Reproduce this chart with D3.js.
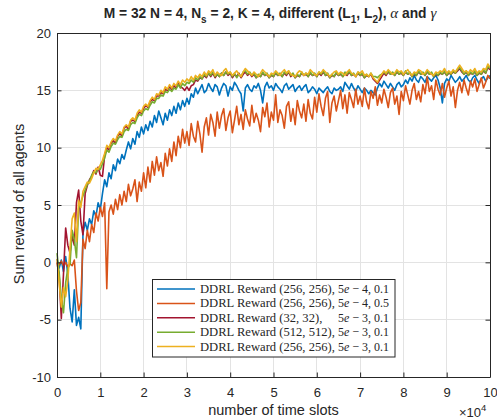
<!DOCTYPE html>
<meta charset="utf-8">
<script src="https://d3js.org/d3.v7.min.js"></script>
<style>
  body { margin: 0; background: #fff; }
  text { font-family: "Liberation Sans", Arial, Helvetica, sans-serif; fill: #262626; }
</style>
<div id="my_dataviz"></div>
<script>

// samples are taken every 500 time slots, from 0 to 100000
var slotStep = 500;

// DDRL Reward (256,256), 5e-4, 0.1
var rewardA = [
  0.3,-0.5,0.2,-0.8,0.5,-1.0,-4.0,-5.2,-2.4,-5.5,
  -4.8,-5.8,2.5,3.5,2.8,3.8,3.3,4.5,4.0,5.2,
  4.6,6.0,7.2,6.6,7.8,7.3,8.5,8.0,9.0,8.6,
  9.4,9.0,9.8,10.5,9.9,10.8,10.3,11.4,10.9,11.8,
  11.2,12.0,11.5,12.3,11.8,12.8,12.2,13.2,12.6,12.0,
  13.0,12.4,13.3,12.8,13.6,13.0,13.9,13.3,14.1,13.6,
  14.3,13.8,14.7,14.4,15.2,14.7,15.1,15.5,14.8,15.0,
  15.6,15.2,14.9,15.5,15.3,14.6,15.2,15.6,15.4,14.5,
  15.3,15.0,15.7,15.4,15.0,14.7,13.2,15.2,15.5,15.1,
  14.9,15.4,15.2,15.6,15.0,13.9,15.3,15.7,15.2,15.4,
  15.0,15.6,15.3,15.1,14.8,15.4,15.6,15.1,15.3,15.5,
  14.9,15.2,15.4,15.0,15.3,15.5,14.8,15.0,15.3,15.1,
  14.7,15.2,15.0,14.8,15.1,15.3,14.9,14.7,15.2,15.0,
  15.1,15.3,14.9,15.7,15.4,15.1,15.6,15.2,14.9,15.4,
  15.1,14.8,15.2,15.0,14.7,15.0,14.8,14.6,15.2,15.6,
  15.3,15.8,15.5,15.2,15.6,15.3,15.0,15.5,15.7,15.3,
  15.5,15.9,15.6,16.1,15.8,16.3,15.9,15.7,16.2,16.0,
  15.7,16.2,16.0,15.8,16.1,16.3,15.9,15.2,13.9,15.6,
  16.0,15.8,16.3,16.0,15.7,15.9,16.2,15.8,16.0,16.3,
  15.9,15.7,16.1,16.3,15.9,15.6,16.0,16.2,15.8,16.1,
  16.3
];

// DDRL Reward (256,256), 5e-4, 0.5
var rewardB = [
  0.0,-0.2,0.1,-0.3,0.0,-0.4,-0.1,-0.3,0.2,-2.5,
  -4.2,-3.5,2.0,1.2,2.8,1.8,3.3,2.6,4.3,3.6,
  4.8,4.0,5.2,-2.3,4.4,5.0,4.2,5.5,4.6,5.9,
  5.0,6.2,5.3,6.8,5.8,6.4,7.2,5.3,7.0,6.2,
  7.8,6.5,8.3,7.0,8.8,7.6,9.2,8.0,8.7,7.5,
  9.5,8.4,9.9,8.8,10.5,9.3,11.0,10.0,11.6,10.4,
  11.4,10.2,12.1,11.0,10.5,12.3,11.2,9.6,11.8,12.6,
  11.1,12.9,12.2,11.0,13.1,11.7,12.8,13.4,11.5,12.6,
  13.2,11.3,12.4,13.6,12.0,12.9,11.6,13.3,12.5,11.9,
  13.7,12.2,13.0,12.4,11.4,13.5,12.7,13.9,11.8,13.1,
  12.4,14.6,12.2,13.3,12.8,11.7,13.6,14.0,12.3,13.4,
  12.0,14.1,13.2,12.6,13.8,12.3,14.2,13.0,12.5,14.4,
  13.1,14.7,13.6,12.8,14.3,14.9,12.2,13.9,14.5,13.2,
  14.1,15.0,13.4,14.6,13.0,14.8,14.2,13.5,15.1,13.8,
  14.5,13.6,15.2,14.0,13.4,14.9,14.3,15.3,13.7,14.6,
  13.9,15.1,14.4,13.5,14.8,15.2,13.8,14.5,12.9,14.9,
  14.1,15.4,14.6,13.8,15.0,15.6,14.2,14.9,14.0,15.5,
  14.7,16.2,14.9,15.4,14.2,15.9,15.1,14.6,15.6,14.4,
  15.2,15.8,14.5,15.3,13.5,15.0,15.7,14.8,15.9,15.2,
  14.6,15.8,15.3,16.0,14.9,15.5,16.1,15.2,15.7,16.3,
  16.0
];

// DDRL Reward (32,32), 5e-3, 0.1
var rewardC = [
  0.0,-1.2,-4.9,-1.0,3.0,1.5,0.8,2.3,1.5,5.2,
  6.3,3.6,2.4,6.0,6.7,7.2,7.5,8.0,7.7,8.3,
  7.6,7.5,9.3,10.0,9.8,10.4,10.6,10.4,11.0,11.3,
  11.0,11.7,11.9,11.6,12.3,12.4,12.3,12.8,13.1,13.0,
  13.4,13.7,13.5,14.0,14.2,14.1,14.5,14.5,14.8,14.7,
  15.1,15.0,15.3,15.1,15.4,15.2,15.6,15.3,15.2,15.0,
  15.3,15.0,15.4,15.5,15.9,15.8,16.1,16.0,16.3,16.1,
  16.5,16.2,16.5,16.1,16.4,16.2,16.5,16.3,16.6,16.3,
  16.5,16.1,16.4,16.2,16.5,16.1,16.4,16.6,16.3,16.5,
  16.2,16.4,16.1,16.3,16.2,16.5,16.3,16.4,16.1,16.3,
  16.2,16.5,16.3,16.4,16.2,16.5,16.3,16.6,16.2,16.4,
  16.1,16.3,16.2,16.5,16.3,16.4,16.2,16.5,16.3,16.4,
  16.2,16.5,16.3,16.6,16.3,16.4,16.1,16.3,16.2,16.5,
  16.3,16.4,16.2,16.5,16.3,16.6,16.3,16.4,16.2,16.5,
  16.3,16.4,16.1,16.3,16.2,16.4,16.0,15.8,15.6,15.9,
  16.2,16.5,16.3,16.6,16.4,16.5,16.3,16.6,16.4,16.5,
  16.3,16.6,16.4,16.5,16.2,16.4,16.3,16.6,16.4,16.5,
  16.3,16.6,16.4,16.5,16.2,16.4,16.3,16.5,16.4,16.6,
  16.3,16.5,16.4,16.6,16.5,16.7,16.9,16.6,16.4,16.6,
  16.3,16.5,16.4,16.6,16.3,16.5,16.4,16.7,16.5,17.0,
  16.8
];

// DDRL Reward (512,512), 5e-3, 0.1
var rewardD = [
  0.8,-0.9,-3.2,-4.4,-1.8,-0.5,-0.2,2.8,2.0,0.4,
  4.7,5.2,5.8,6.3,6.8,7.1,7.6,7.9,7.8,8.2,
  8.1,8.6,9.1,9.8,9.6,10.1,10.4,10.3,10.7,11.0,
  10.9,11.4,11.6,11.5,12.0,12.2,12.1,12.6,12.9,12.8,
  13.2,13.4,13.3,13.7,14.0,13.9,14.3,14.3,14.6,14.5,
  14.9,14.8,15.1,14.9,15.2,15.1,15.5,15.2,15.6,15.4,
  15.7,15.6,15.9,15.7,16.1,15.9,16.2,16.0,16.4,16.2,
  16.5,16.3,16.6,16.2,16.4,16.2,16.5,16.3,16.6,16.4,
  16.6,16.2,16.5,16.1,16.4,16.2,16.6,16.7,16.4,16.6,
  16.3,16.5,16.1,16.4,16.2,16.6,16.3,16.5,16.1,16.4,
  16.2,16.6,16.3,16.5,16.2,16.6,16.4,16.7,16.3,16.5,
  16.1,16.4,16.2,16.6,16.3,16.5,16.2,16.6,16.3,16.5,
  16.2,16.6,16.4,16.7,16.3,16.5,16.1,16.4,16.2,16.6,
  16.3,16.5,16.2,16.6,16.4,16.7,16.3,16.5,16.2,16.6,
  16.3,16.5,16.1,16.4,16.2,16.5,16.2,16.2,16.1,16.3,
  16.4,16.6,16.4,16.7,16.4,16.6,16.3,16.7,16.4,16.6,
  16.3,16.7,16.4,16.6,16.2,16.5,16.3,16.7,16.4,16.6,
  16.3,16.7,16.4,16.6,16.2,16.5,16.3,16.6,16.4,16.7,
  16.3,16.6,16.4,16.7,16.5,16.8,17.0,16.7,16.4,16.7,
  16.3,16.6,16.4,16.7,16.3,16.6,16.4,16.8,16.5,17.1,
  16.9
];

// DDRL Reward (256,256), 5e-3, 0.1
var rewardE = [
  0.3,-1.8,-3.9,-2.2,-3.0,-1.6,1.2,3.8,4.3,1.8,
  5.4,4.8,6.2,6.6,7.0,6.9,7.3,7.8,8.2,8.1,
  8.5,8.9,9.5,10.2,10.0,10.5,10.8,10.6,11.1,11.4,
  11.2,11.8,12.0,11.8,12.4,12.6,12.4,13.0,13.3,13.1,
  13.6,13.8,13.6,14.1,14.4,14.2,14.7,14.6,15.0,14.8,
  15.3,15.1,15.5,15.2,15.6,15.4,15.8,15.5,15.9,15.7,
  16.0,15.8,16.2,15.9,16.3,16.1,16.4,16.2,16.6,16.3,
  16.7,16.5,16.8,16.3,16.6,16.4,16.3,16.7,16.9,16.5,
  16.6,16.3,16.5,16.7,16.4,16.2,16.6,16.9,16.7,16.5,
  16.3,16.6,16.4,16.2,16.5,16.8,16.6,16.4,16.2,16.5,
  16.4,16.7,16.5,16.3,16.6,16.8,16.5,16.7,16.4,16.3,
  16.2,16.5,16.7,16.6,16.3,16.5,16.4,16.8,16.6,16.4,
  16.3,16.6,16.5,16.8,16.6,16.4,16.2,16.4,16.6,16.7,
  16.4,16.6,16.5,16.3,16.6,16.8,16.5,16.4,16.2,16.6,
  16.5,16.7,16.3,16.4,16.2,16.5,16.1,15.9,15.7,16.1,
  16.4,16.7,16.5,16.8,16.6,16.4,16.5,16.8,16.6,16.7,
  16.4,16.6,16.8,16.5,16.3,16.6,16.5,16.8,16.7,16.4,
  16.5,16.8,16.6,16.4,16.3,16.6,16.5,16.7,16.6,16.9,
  16.5,16.7,16.5,16.8,16.6,16.9,17.2,16.9,16.6,16.7,
  16.5,16.8,16.6,16.9,16.5,16.7,16.6,16.9,16.8,17.3,
  17.0
];

var seriesNames = [
  ["DDRL Reward (256, 256),", "4, 0.1"],
  ["DDRL Reward (256, 256),", "4, 0.5"],
  ["DDRL Reward (32, 32),", "3, 0.1"],
  ["DDRL Reward (512, 512),", "3, 0.1"],
  ["DDRL Reward (256, 256),", "3, 0.1"]
];
var seriesColors = ["#0072BD", "#D95319", "#A2142F", "#77AC30", "#EDB120"];
var seriesValues = [rewardA, rewardB, rewardC, rewardD, rewardE];

var xTicks = [0, 10000, 20000, 30000, 40000, 50000, 60000, 70000, 80000, 90000, 100000];
var xTickLabels = ["0", "1", "2", "3", "4", "5", "6", "7", "8", "9", "10"];
var yTicks = [-10, -5, 0, 5, 10, 15, 20];

// set the dimensions and margins of the graph
var margin = {top: 33, right: 7, bottom: 43, left: 57},
  width = 497 - margin.left - margin.right,
  height = 420 - margin.top - margin.bottom;

var root = d3.select("#my_dataviz")
  .append("svg")
    .attr("width", 497)
    .attr("height", 420);

root.append("rect").attr("width", 497).attr("height", 420).attr("fill", "#fff");

var svg = root.append("g")
  .attr("transform", "translate(" + margin.left + "," + margin.top + ")");

var x = d3.scaleLinear().domain([0, 100000]).range([0, width]);
var y = d3.scaleLinear().domain([-10, 20]).range([height, 0]);

// grid lines
svg.append("g").selectAll("line").data(xTicks).enter().append("line")
  .attr("x1", function(d) { return x(d); })
  .attr("x2", function(d) { return x(d); })
  .attr("y1", 0).attr("y2", height)
  .attr("stroke", "#e3e3e3").attr("stroke-width", 1)
  .attr("shape-rendering", "crispEdges");
svg.append("g").selectAll("line").data(yTicks).enter().append("line")
  .attr("y1", function(d) { return y(d); })
  .attr("y2", function(d) { return y(d); })
  .attr("x1", 0).attr("x2", width)
  .attr("stroke", "#e3e3e3").attr("stroke-width", 1)
  .attr("shape-rendering", "crispEdges");

// the curves
var line = d3.line()
  .x(function(d, i) { return x(i * slotStep); })
  .y(function(d) { return y(d); });

seriesValues.forEach(function(vals, k) {
  svg.append("path")
    .datum(vals)
    .attr("fill", "none")
    .attr("stroke", seriesColors[k])
    .attr("stroke-width", 1.6)
    .attr("stroke-linejoin", "round")
    .attr("d", line);
});

// axes, ticks pointing inwards on all four sides
var tickLen = 4.5;
function styleAxis(g) {
  g.selectAll("path.domain").attr("stroke", "#262626").attr("stroke-width", 1);
  g.selectAll(".tick line").attr("stroke", "#262626").attr("stroke-width", 1);
  g.selectAll(".tick text").attr("fill", "#262626").style("font-size", "13px")
    .style("font-family", '"Liberation Sans", Arial, sans-serif');
}

svg.append("g")
  .attr("transform", "translate(0," + height + ")")
  .call(d3.axisBottom(x).tickValues(xTicks)
    .tickFormat(function(d, i) { return xTickLabels[i]; })
    .tickSizeInner(-tickLen).tickSizeOuter(0).tickPadding(10.5))
  .call(styleAxis);

svg.append("g")
  .call(d3.axisTop(x).tickValues(xTicks).tickFormat("")
    .tickSizeInner(-tickLen).tickSizeOuter(0))
  .call(styleAxis);

svg.append("g")
  .call(d3.axisLeft(y).tickValues(yTicks)
    .tickFormat(function(d) { return String(d); })
    .tickSizeInner(-tickLen).tickSizeOuter(0).tickPadding(6))
  .call(styleAxis);

svg.append("g")
  .attr("transform", "translate(" + width + ",0)")
  .call(d3.axisRight(y).tickValues(yTicks).tickFormat("")
    .tickSizeInner(-tickLen).tickSizeOuter(0))
  .call(styleAxis);

// axis labels
root.append("text")
  .attr("x", 273.5).attr("y", 415)
  .attr("text-anchor", "middle")
  .style("font-size", "14.5px")
  .text("number of time slots");

root.append("text")
  .attr("transform", "translate(24,204) rotate(-90)")
  .attr("text-anchor", "middle")
  .style("font-size", "14.5px")
  .text("Sum reward of all agents");

var expo = root.append("text")
  .attr("x", 459).attr("y", 416.5)
  .style("font-size", "13px");
expo.append("tspan").text("\u00d710");
expo.append("tspan").attr("dy", -6).style("font-size", "9.5px").text("4");

// title
var titleParts = [
  ["M = 32 N = 4, N", 0], ["s", 1], [" = 2, K = 4, different (L", 0], ["1", 1],
  [", L", 0], ["2", 1], ["), ", 0], ["\u03b1", 2], [" and ", 0], ["\u03b3", 2]
];
var title = root.append("text")
  .attr("x", 270).attr("y", 18)
  .attr("text-anchor", "middle")
  .style("font-size", "13.8px")
  .style("font-weight", "bold");
var inSub = false;
titleParts.forEach(function(p) {
  var t = title.append("tspan").text(p[0]);
  if (p[1] === 1) {
    t.attr("dy", 4.5).style("font-size", "10px");
    inSub = true;
  } else {
    if (inSub) { t.attr("dy", -4.5); inSub = false; }
    if (p[1] === 2) {
      t.style("font-family", '"Liberation Serif", "Times New Roman", serif')
        .style("font-weight", "normal").style("font-style", "italic")
        .style("font-size", "15px");
    }
  }
});

// legend
var legend = root.append("g");
legend.append("rect")
  .attr("x", 152.5).attr("y", 279.5)
  .attr("width", 242.5).attr("height", 77.5)
  .attr("fill", "#fff").attr("stroke", "#262626").attr("stroke-width", 1);

var rowGap = 14.4;
seriesNames.forEach(function(nm, k) {
  var cy = 289 + k * rowGap;
  legend.append("line")
    .attr("x1", 157).attr("x2", 195)
    .attr("y1", cy).attr("y2", cy)
    .attr("stroke", seriesColors[k]).attr("stroke-width", 1.5);
  legend.append("text")
    .attr("x", 200).attr("y", cy + 4)
    .style("font-family", '"Liberation Serif", "Times New Roman", serif')
    .style("font-size", "12.6px")
    .text(nm[0]);
  var suf = legend.append("text")
    .attr("x", 338).attr("y", cy + 4)
    .attr("textLength", 51)
    .attr("lengthAdjust", "spacingAndGlyphs")
    .style("font-family", '"Liberation Serif", "Times New Roman", serif')
    .style("font-size", "12.6px");
  suf.append("tspan").text("5");
  suf.append("tspan").style("font-style", "italic").text("e");
  suf.append("tspan").text(" \u2212 " + nm[1]);
});

</script>
